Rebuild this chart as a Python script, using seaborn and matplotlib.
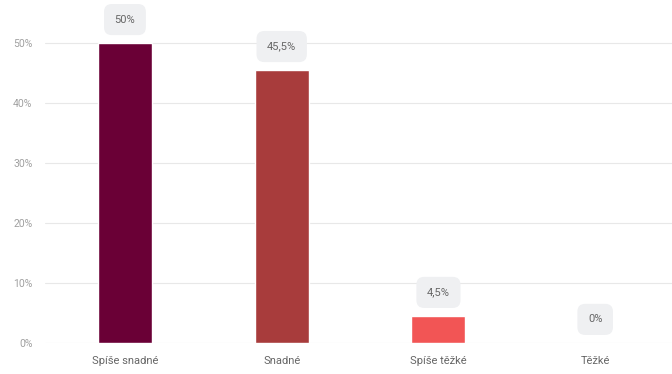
import matplotlib
matplotlib.use("Agg")
import matplotlib.pyplot as plt
import seaborn as sns
import pandas as pd

categories = ["Spíše snadné", "Snadné", "Spíše těžké", "Těžké"]
values = [50, 45.5, 4.5, 0]
value_labels = ["50%", "45,5%", "4,5%", "0%"]
colors = ["#6a0036", "#a83c3c", "#f25555", "#f4a0a0"]
y_ticks = [0, 10, 20, 30, 40, 50]

sns.set_theme(style="white")
plt.rcParams["font.family"] = ["Roboto", "DejaVu Sans"]

df = pd.DataFrame({"cat": categories, "val": values})

fig = plt.figure(figsize=(6.72, 3.74), dpi=100)
ax = fig.add_axes([45 / 672, 31 / 374, 1 - 45 / 672, 1 - 31 / 374])

sns.barplot(data=df, x="cat", y="val", hue="cat", palette=colors,
            saturation=1, width=0.345, legend=False, ax=ax, zorder=3)

ax.set_xlim(-0.51, 3.49)
ax.set_ylim(0, 57.2)
ax.set_yticks(y_ticks)
ax.set_yticklabels([f"{t}%" for t in y_ticks])
ax.grid(axis="y", color="#e8e8e8", linewidth=0.8, zorder=0)
for s in ax.spines.values():
    s.set_visible(False)
ax.tick_params(axis="y", length=0, pad=9, labelsize=7.5, labelcolor="#a0a0a0")
ax.tick_params(axis="x", length=0, pad=9, labelsize=8, labelcolor="#666666")
ax.set_xlabel("")
ax.set_ylabel("")

for i, (v, lab) in enumerate(zip(values, value_labels)):
    ax.annotate(lab, (i, v), xytext=(0, 17), textcoords="offset points",
                ha="center", va="center", fontsize=8, color="#666666",
                bbox=dict(boxstyle="round,pad=0.95,rounding_size=0.7",
                          fc="#eff0f2", ec="none"))

fig.savefig("out.png", dpi=100)
